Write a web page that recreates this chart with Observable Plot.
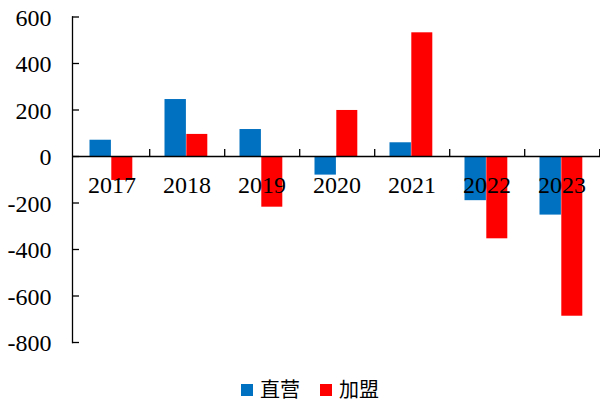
<!DOCTYPE html>
<html>
<head>
<meta charset="utf-8">
<script src="https://cdn.jsdelivr.net/npm/d3@7"></script>
<script src="https://cdn.jsdelivr.net/npm/@observablehq/plot@0.6"></script>
<style>
  html, body { margin: 0; padding: 0; background: #fff; }
  #wrap { width: 600px; height: 403px; overflow: hidden; position: relative; }
  #legend { position: absolute; left: 241px; top: 374px; display: flex; align-items: center;
    font-family: "Noto Sans CJK SC", sans-serif; font-size: 20px; line-height: normal; color: #000; }
  .sw { width: 12px; height: 12px; display: inline-block; margin-right: 7px; margin-top: 2px; }
  .item { display: flex; align-items: center; margin-right: 20px; }
</style>
</head>
<body>
<div id="wrap"></div>
<script>
const years = ["2017", "2018", "2019", "2020", "2021", "2022", "2023"];
const direct = [70, 245, 116, -80, 59, -190, -252];
const franchise = [-103, 95, -218, 198, 532, -354, -687];
const seriesNames = ["直营", "加盟"];
const seriesColors = ["#0070C0", "#FF0000"];
const yTicks = [-800, -600, -400, -200, 0, 200, 400, 600];

const serif = "'Liberation Serif'";
const directData = years.map((y, i) => ({year: y, value: direct[i]}));
const franchiseData = years.map((y, i) => ({year: y, value: franchise[i]}));
const yLabelData = yTicks.map(v => ({value: v, label: String(v)}));

const chart = Plot.plot({
  width: 600,
  height: 369,
  marginLeft: 72,
  marginRight: 0,
  marginTop: 16.5,
  marginBottom: 27,
  style: {background: "#fff", overflow: "visible", fontFamily: serif},
  x: {type: "band", domain: years, padding: 0, axis: null},
  y: {domain: [-800, 600], axis: null},
  marks: [
    Plot.barY(directData, {x: "year", y: "value", fill: seriesColors[0], insetLeft: 15.5, insetRight: 38.1}),
    Plot.barY(franchiseData, {x: "year", y: "value", fill: seriesColors[1], insetLeft: 37.3, insetRight: 16.7}),
    Plot.ruleY([0], {stroke: "#000", strokeWidth: 1.3}),
    Plot.ruleX(years, {x: d => d, y1: 0, y2: 30, dx: 37.7, stroke: "#000", strokeWidth: 1.3}),
    Plot.frame({anchor: "left", stroke: "#000", strokeWidth: 1.3}),
    Plot.ruleY(yTicks, {y: d => d, insetRight: 521, stroke: "#000", strokeWidth: 1.3}),
    Plot.text(yLabelData, {y: "value", text: "label", frameAnchor: "left", textAnchor: "end", dx: -21, dy: 1, fontSize: 24, fontFamily: serif, fontVariant: "normal", fill: "#000"}),
    Plot.text(years, {x: d => d, y: 0, dy: 29, fontSize: 24, fontFamily: serif, fill: "#000"})
  ]
});
document.getElementById("wrap").appendChild(chart);

const legend = document.createElement("div");
legend.id = "legend";
seriesNames.forEach((name, i) => {
  const item = document.createElement("span");
  item.className = "item";
  const sw = document.createElement("span");
  sw.className = "sw";
  sw.style.background = seriesColors[i];
  item.appendChild(sw);
  item.appendChild(document.createTextNode(name));
  legend.appendChild(item);
});
document.getElementById("wrap").appendChild(legend);
</script>
</body>
</html>
